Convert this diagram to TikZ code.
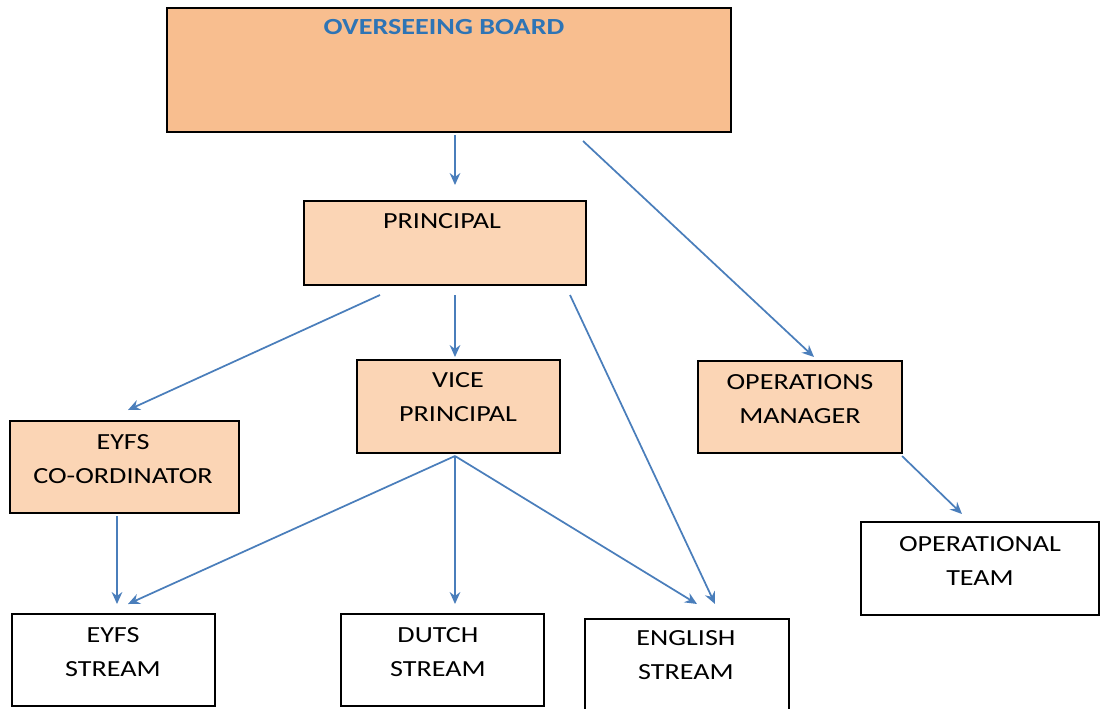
\documentclass[tikz,border=0pt]{standalone}
\usepackage{fontspec}
\setmainfont{Carlito}[FakeStretch=1.22]
\usetikzlibrary{arrows.meta,calc}
\definecolor{boardfill}{RGB}{248,190,143}
\definecolor{lightfill}{RGB}{251,213,181}
\definecolor{arrowblue}{RGB}{74,126,187}
\definecolor{titleblue}{RGB}{46,116,181}
\begin{document}
\begin{tikzpicture}[x=0.75pt,y=-0.75pt,
  box/.style 2 args={draw=black, line width=1.5pt, inner sep=0pt,
    minimum width=#1*0.75pt, minimum height=#2*0.75pt},
  lbl/.style={inner sep=0pt, align=center, font=\fontsize{17.3}{25.5}\selectfont},
  arr/.style={draw=arrowblue, line width=1.3pt,
    -{Stealth[length=9pt,width=8pt,inset=3pt]}}]
\useasboundingbox (0,0) rectangle (1100,708);
% boxes
\node[box={564}{124}, fill=boardfill] (bd) at (449,70) {};
\node[box={282}{84}, fill=lightfill] (pr) at (445,243) {};
\node[box={203}{93}, fill=lightfill] (vp) at (458.5,406.5) {};
\node[box={229}{92}, fill=lightfill] (ec) at (124.5,467) {};
\node[box={204}{92}, fill=lightfill] (om) at (800,407) {};
\node[box={238}{93}, fill=white] (ot) at (980,568.5) {};
\node[box={203}{92}, fill=white] (es) at (113.5,660) {};
\node[box={203}{92}, fill=white] (dt) at (442.5,660) {};
\node[box={204}{102}, fill=white] (en) at (687,670) {};
% labels
\node[lbl, text=titleblue, font=\fontsize{17.3}{25.5}\selectfont\bfseries] (bdt) at (444,27) {OVERSEEING BOARD};
\node[lbl] (prt) at (442,221) {PRINCIPAL};
\node[lbl] (vpt) at (458,397.5) {VICE\\PRINCIPAL};
\node[lbl] (ect) at (123,459) {EYFS\\CO-ORDINATOR};
\node[lbl] (omt) at (800,399) {OPERATIONS\\MANAGER};
\node[lbl] (ott) at (980,561.5) {OPERATIONAL\\TEAM};
\node[lbl] (est) at (113,652.5) {EYFS\\STREAM};
\node[lbl] (dtt) at (438,652.5) {DUTCH\\STREAM};
\node[lbl] (ent) at (686,655.5) {ENGLISH\\STREAM};
% connectors
\draw[arr] ($(bd.south)+(6,2)$) -- ($(pr.north)+(10,-15)$);
\draw[arr] ($(bd.south)+(134,8)$) -- ($(om.north)+(14,-3)$);
\draw[arr] ($(pr.south)+(-65,9)$) -- ($(ec.north)+(3.5,-10)$);
\draw[arr] ($(pr.south)+(10,9)$) -- ($(vp.north)+(-3.5,-2)$);
\draw[arr] ($(pr.south)+(125,9)$) -- ($(en.north)+(28,-14)$);
\draw[arr] ($(vp.south)+(-3.5,2)$) -- ($(es.north)+(14.5,-9)$);
\draw[arr] ($(vp.south)+(-3.5,2)$) -- ($(dt.north)+(12.5,-9)$);
\draw[arr] ($(vp.south)+(-3.5,2)$) -- ($(en.north)+(10,-14)$);
\draw[arr] ($(ec.south)+(-7.5,2)$) -- ($(es.north)+(3.5,-9)$);
\draw[arr] ($(om.south)+(102,2)$) -- ($(ot.north)+(-18,-7)$);
\end{tikzpicture}
\end{document}
